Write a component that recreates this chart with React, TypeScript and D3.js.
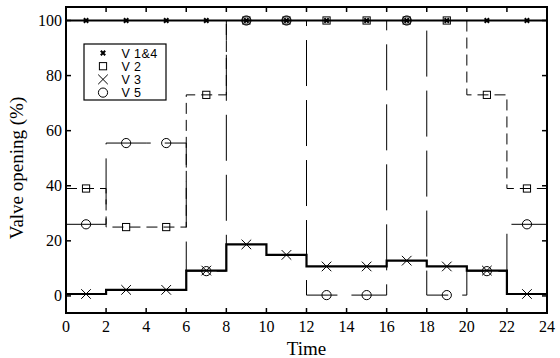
import React from 'react';
import * as d3 from 'd3';

// step edges (hours) and marker times (middle of each 2 h block)
const edges = [0, 2, 4, 6, 8, 10, 12, 14, 16, 18, 20, 22, 24];
const mids = [1, 3, 5, 7, 9, 11, 13, 15, 17, 19, 21, 23];

const v14 = [100, 100, 100, 100, 100, 100, 100, 100, 100, 100, 100, 100];
const v2 = [39, 25, 25, 73, 100, 100, 100, 100, 100, 100, 73, 39];
const v3 = [0.7, 2.2, 2.2, 9.2, 18.7, 14.9, 10.7, 10.7, 12.8, 10.7, 9.2, 0.7];
const v5 = [26, 55.5, 55.5, 9, 100, 100, 0.3, 0.3, 100, 0.3, 9, 26];

const xTicks = [0, 2, 4, 6, 8, 10, 12, 14, 16, 18, 20, 22, 24];
const yTicks = [0, 20, 40, 60, 80, 100];
const legendNames = ['V 1&4', 'V 2', 'V 3', 'V 5'];

const W = 560;
const H = 358;
const left = 66, right = 547, top = 7, bottom = 313;

const x = d3.scaleLinear().domain([0, 24]).range([left, right]);
const y = d3.scaleLinear().domain([-6.2, 104.9]).range([bottom, top]);

const stepLine = d3.line<[number, number]>()
  .x(d => x(d[0]))
  .y(d => y(d[1]))
  .curve(d3.curveStepAfter);

const stepPts = (vals: number[]): [number, number][] =>
  edges.map((t, i) => [t, vals[Math.min(i, vals.length - 1)]] as [number, number]);

const serif = '"Liberation Serif", "Times New Roman", serif';
const sans = '"Liberation Sans", Arial, sans-serif';

// marker drawing helpers
const Marker = ({ kind, cx, cy }: { kind: string; cx: number; cy: number }) => {
  if (kind === 'small') {
    const s = 2.2;
    return (
      <path d={`M${cx - s},${cy - s}L${cx + s},${cy + s}M${cx - s},${cy + s}L${cx + s},${cy - s}`}
        stroke="#000" strokeWidth={2} fill="none" />
    );
  }
  if (kind === 'square') {
    const s = 3.6;
    return <rect x={cx - s} y={cy - s} width={2 * s} height={2 * s} stroke="#000" strokeWidth={1} fill="none" />;
  }
  if (kind === 'cross') {
    const s = 4.8;
    return (
      <path d={`M${cx - s},${cy - s}L${cx + s},${cy + s}M${cx - s},${cy + s}L${cx + s},${cy - s}`}
        stroke="#000" strokeWidth={1} fill="none" />
    );
  }
  return <circle cx={cx} cy={cy} r={4.6} stroke="#000" strokeWidth={1} fill="none" />;
};

const kinds = ['small', 'square', 'cross', 'circle'];

export default function App() {
  return (
    <svg width={W} height={H} style={{ position: 'absolute', left: 0, top: 0, background: '#fff' }}>
      {/* series lines */}
      <path d={stepLine(stepPts(v2)) || ''} fill="none" stroke="#000" strokeWidth={1} strokeDasharray="11,6" />
      <path d={stepLine(stepPts(v5)) || ''} fill="none" stroke="#000" strokeWidth={1} strokeDasharray="46,14" />
      <path d={stepLine(stepPts(v3)) || ''} fill="none" stroke="#000" strokeWidth={2.2} />
      <path d={stepLine(stepPts(v14)) || ''} fill="none" stroke="#000" strokeWidth={1.8} />

      {/* markers */}
      {mids.map((t, i) => <Marker key={'a' + i} kind="small" cx={x(t)} cy={y(v14[i])} />)}
      {mids.map((t, i) => <Marker key={'b' + i} kind="square" cx={x(t)} cy={y(v2[i])} />)}
      {mids.map((t, i) => <Marker key={'c' + i} kind="cross" cx={x(t)} cy={y(v3[i])} />)}
      {mids.map((t, i) => <Marker key={'d' + i} kind="circle" cx={x(t)} cy={y(v5[i])} />)}

      {/* frame */}
      <rect x={left} y={top} width={right - left} height={bottom - top} fill="none" stroke="#000" strokeWidth={2} />

      {/* x ticks */}
      {xTicks.map(t => (
        <g key={'x' + t}>
          <line x1={x(t)} x2={x(t)} y1={bottom} y2={bottom - 5} stroke="#000" strokeWidth={1.5} />
          <line x1={x(t)} x2={x(t)} y1={top} y2={top + 5} stroke="#000" strokeWidth={1.5} />
          <text x={x(t)} y={332} textAnchor="middle" fontFamily={serif} fontSize={16}>{t}</text>
        </g>
      ))}

      {/* y ticks */}
      {yTicks.map(v => (
        <g key={'y' + v}>
          <line x1={left} x2={left + 5} y1={y(v)} y2={y(v)} stroke="#000" strokeWidth={1.5} />
          <line x1={right} x2={right - 5} y1={y(v)} y2={y(v)} stroke="#000" strokeWidth={1.5} />
          <text x={62} y={y(v) + 5.5} textAnchor="end" fontFamily={serif} fontSize={16}>{v}</text>
        </g>
      ))}

      {/* axis titles */}
      <text x={(left + right) / 2} y={355} textAnchor="middle" fontFamily={serif} fontSize={19}>Time</text>
      <text transform={`translate(23,${(top + bottom) / 2 + 8}) rotate(-90)`} textAnchor="middle"
        fontFamily={serif} fontSize={19}>Valve opening (%)</text>

      {/* legend */}
      <rect x={84} y={44} width={82} height={56} fill="#fff" stroke="#000" strokeWidth={1.2} />
      {legendNames.map((name, i) => (
        <g key={name}>
          <Marker kind={kinds[i]} cx={103} cy={53 + i * 13.2} />
          <text x={121.5} y={53 + i * 13.2 + 4.5} fontFamily={sans} fontSize={12.5} letterSpacing={0.4}>{name}</text>
        </g>
      ))}
    </svg>
  );
}
